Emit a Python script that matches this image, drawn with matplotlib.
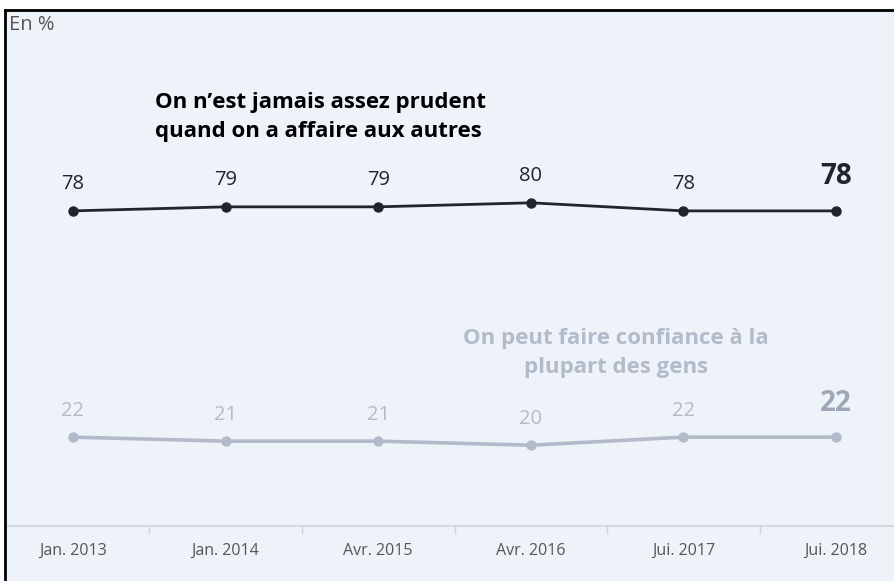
import matplotlib
matplotlib.use('Agg')
import matplotlib.pyplot as plt
from matplotlib.lines import Line2D

# données
periodes = ['Jan. 2013', 'Jan. 2014', 'Avr. 2015', 'Avr. 2016', 'Jui. 2017', 'Jui. 2018']
prudent = [78, 79, 79, 80, 78, 78]
confiance = [22, 21, 21, 20, 22, 22]
titre_prudent = 'On n\u2019est jamais assez prudent\nquand on a affaire aux autres'
titre_confiance = 'On peut faire confiance à la\nplupart des gens'

plt.rcParams['font.family'] = ['Open Sans', 'DejaVu Sans']

W, H = 894, 581
fig = plt.figure(figsize=(W / 100, H / 100), dpi=100)
fig.patch.set_facecolor('white')

fond = '#EEF3F9'
sombre = '#1E2530'
clair = '#B3BBCA'
clair_fort = '#9EA7B8'

# fond + cadre (gauche et haut seulement)
fig.patches.append(plt.Rectangle((6 / W, 0), 1, 1 - 10 / H, transform=fig.transFigure,
                                 facecolor=fond, edgecolor='none', zorder=-10))
fig.lines.append(Line2D([5 / W, 5 / W], [0, 1 - 10 / H], transform=fig.transFigure, color='black', lw=2))
fig.lines.append(Line2D([5 / W, 1], [1 - 10 / H, 1 - 10 / H], transform=fig.transFigure, color='black', lw=2))

# axes : x=0 -> 73px, pas 152.6px ; y=0 -> 526px, 4.04px / point
ax_l, ax_r = 8, 894
ax_b, ax_t = 526, 12
ax = fig.add_axes([ax_l / W, 1 - ax_b / H, (ax_r - ax_l) / W, (ax_b - ax_t) / H])
ax.set_facecolor('none')
pas = 152.6
ax.set_xlim(-(73 - ax_l) / pas, 5 + (ax_r - 836) / pas)
ax.set_ylim(0, (ax_b - ax_t) / 4.04)

x = list(range(len(periodes)))
ax.plot(x, prudent, color=sombre, lw=2, marker='o', ms=6.5, zorder=3)
ax.plot(x, confiance, color=clair, lw=2.6, marker='o', ms=6.5, zorder=3)

for i, v in enumerate(prudent):
    der = i == len(x) - 1
    ax.annotate(str(v), (i, v), xytext=(0, 24.5 if der else 19), textcoords='offset points',
                ha='center', va='center', color=sombre,
                fontsize=20 if der else 14.5, fontweight='bold' if der else 'normal')
for i, v in enumerate(confiance):
    der = i == len(x) - 1
    ax.annotate(str(v), (i, v), xytext=(0, 24.5 if der else 19), textcoords='offset points',
                ha='center', va='center', color=clair_fort if der else clair,
                fontsize=20 if der else 14.5, fontweight='bold' if der else 'normal')

fig.text(155 / W, 1 - 117 / H, titre_prudent, ha='left', va='center', fontsize=16,
         fontweight='bold', color='black', linespacing=1.5)
fig.text(616 / W, 1 - 353 / H, titre_confiance, ha='center', va='center', fontsize=16,
         fontweight='bold', color=clair, linespacing=1.5)
fig.text(9 / W, 1 - 25 / H, 'En %', ha='left', va='center', fontsize=14.5, color='#555555')

# axe
for s in ['top', 'right', 'left']:
    ax.spines[s].set_visible(False)
ax.spines['bottom'].set_color('#CDD4DD')
ax.spines['bottom'].set_linewidth(1.2)
ax.set_yticks([])
ax.set_xticks(x)
ax.set_xticklabels(periodes, fontsize=11.5, color='#555555')
ax.tick_params(axis='x', which='major', length=0, pad=12)
ax.set_xticks([i + 0.5 for i in x[:-1]], minor=True)
ax.tick_params(axis='x', which='minor', length=6, color='#CDD4DD', width=1)

fig.savefig('out.png', dpi=100)
